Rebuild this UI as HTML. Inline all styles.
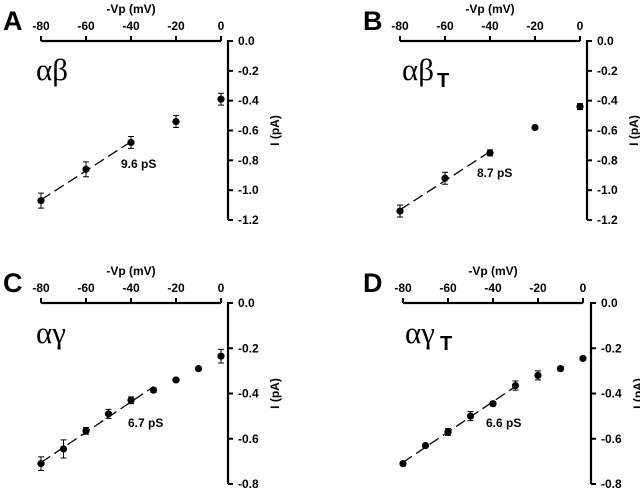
<!DOCTYPE html>
<html><head><meta charset="utf-8"><style>
html,body{margin:0;padding:0;background:#fff;}
svg{display:block;font-family:"Liberation Sans",Arial,sans-serif;}
.t{font-size:12px;font-weight:bold;}
</style></head><body>
<svg id="fig" width="640" height="492"></svg>
<script>
const voltsAB = [-80,-60,-40,-20,0];
const currA = [-1.07,-0.86,-0.68,-0.54,-0.39];
const errA = [0.05,0.05,0.04,0.04,0.04];
const currB = [-1.14,-0.92,-0.75,-0.58,-0.44];
const errB = [0.04,0.04,0.02,0.0,0.02];
const voltsCD = [-80,-70,-60,-50,-40,-30,-20,-10,0];
const currC = [-0.71,-0.645,-0.565,-0.49,-0.43,-0.385,-0.34,-0.29,-0.235];
const errC = [0.03,0.04,0.015,0.02,0.015,0.01,0,0,0.03];
const currD = [-0.71,-0.63,-0.57,-0.50,-0.445,-0.365,-0.32,-0.29,-0.245];
const errD = [0.01,0,0.015,0.02,0.01,0.02,0.02,0.01,0];
const xTicks = [-80,-60,-40,-20,0];
const yTicksAB = [0,-0.2,-0.4,-0.6,-0.8,-1.0,-1.2];
const yTicksCD = [0,-0.2,-0.4,-0.6,-0.8];
const labels = ["9.6 pS","8.7 pS","6.7 pS","6.6 pS"];
const letters = ["A","B","C","D"];

const NS="http://www.w3.org/2000/svg";
const svg=document.getElementById('fig');
function mk(tag,attrs,parent){const e=document.createElementNS(NS,tag);for(const k in attrs)e.setAttribute(k,attrs[k]);(parent||svg).appendChild(e);return e;}

const panels=[
 {x0:41,x1:221,ax:228,yTop:41,yBot:220,ymin:-1.2,v:voltsAB,c:currA,e:errA,yt:yTicksAB,fitN:3,greek:"αβ",sub:"",lbl:[121,168],lx:3,ly:30,gx:36,gy:80},
 {x0:400,x1:580,ax:587,yTop:41,yBot:220,ymin:-1.2,v:voltsAB,c:currB,e:errB,yt:yTicksAB,fitN:3,greek:"αβ",sub:"T",lbl:[477,177],lx:363,ly:30,gx:402,gy:80},
 {x0:41,x1:221,ax:228,yTop:303,yBot:484,ymin:-0.8,v:voltsCD,c:currC,e:errC,yt:yTicksCD,fitN:6,greek:"αγ",sub:"",lbl:[128,427],lx:3,ly:292,gx:36,gy:343},
 {x0:403,x1:583,ax:591,yTop:303,yBot:484,ymin:-0.8,v:voltsCD,c:currD,e:errD,yt:yTicksCD,fitN:6,greek:"αγ",sub:"T",lbl:[486,427],lx:363,ly:292,gx:405,gy:343}
];

panels.forEach((p,i)=>{
  const g=mk('g',{});
  
  
  const X=v=>p.x0+(v+80)/80*(p.x1-p.x0);
  const Y=c=>p.yTop+(c/p.ymin)*(p.yBot-p.yTop);
  const xa=mk('line',{x1:p.x0,y1:p.yTop,x2:p.x1,y2:p.yTop,stroke:'#000','stroke-width':2.2},g);
  
  xTicks.forEach(t=>{
    mk('line',{x1:X(t),y1:p.yTop,x2:X(t),y2:p.yTop-5,stroke:'#000','stroke-width':2},g);
    const tx=mk('text',{x:X(t),y:p.yTop-11,'text-anchor':'middle',class:'t'},g);tx.textContent=t;
    
  });
  const xt=mk('text',{x:(p.x0+p.x1)/2,y:p.yTop-28,'text-anchor':'middle',class:'t'},g);xt.textContent='-Vp (mV)';
  
  const ya=mk('line',{x1:p.ax,y1:p.yTop-1,x2:p.ax,y2:p.yBot,stroke:'#000','stroke-width':2.2},g);
  
  p.yt.forEach(t=>{
    mk('line',{x1:p.ax,y1:Y(t),x2:p.ax+5,y2:Y(t),stroke:'#000','stroke-width':2},g);
    const tx=mk('text',{x:p.ax+10,y:Y(t)+4,class:'t'},g);tx.textContent=t.toFixed(1);
    
  });
  const yc=(p.yTop+p.yBot)/2;
  const yx=p.ax+51;
  const yt=mk('text',{x:yx,y:yc,'text-anchor':'middle',class:'t',transform:`rotate(-90 ${yx} ${yc})`},g);yt.textContent='I (pA)';
  
  const n=p.fitN;let sx=0,sy=0,sxx=0,sxy=0;
  for(let k=0;k<n;k++){sx+=p.v[k];sy+=p.c[k];sxx+=p.v[k]*p.v[k];sxy+=p.v[k]*p.c[k];}
  const m=(n*sxy-sx*sy)/(n*sxx-sx*sx),b=(sy-m*sx)/n;
  const va=p.v[0],vb=p.v[n-1];
  const fl=mk('line',{x1:X(va),y1:Y(m*va+b),x2:X(vb),y2:Y(m*vb+b),stroke:'#000','stroke-width':1.3,'stroke-dasharray':'11,5'},g);
  
  p.v.forEach((v,k)=>{
    const cx=X(v),cy=Y(p.c[k]),e=p.e[k];
    if(e>0){
      const y1=Y(p.c[k]+e),y2=Y(p.c[k]-e);
      mk('path',{d:`M${cx},${y1}V${y2}M${cx-3},${y1}H${cx+3}M${cx-3},${y2}H${cx+3}`,stroke:'#000','stroke-width':1,fill:'none'},g);
    }
    const c=mk('circle',{cx:cx,cy:cy,r:3.6,fill:'#000'},g);
    
  });
  const lb=mk('text',{x:p.lbl[0],y:p.lbl[1],class:'t'},g);lb.textContent=labels[i];
  
  const L=mk('text',{x:p.lx,y:p.ly,'font-size':27,'font-weight':'bold'},g);L.textContent=letters[i];
  
  const G=mk('text',{x:p.gx,y:p.gy,'font-size':31,'font-family':'"Liberation Serif",serif'},g);G.textContent=p.greek;
  
  if(p.sub){const s=mk('text',{x:p.gx+35,y:p.gy+7,'font-size':20,'font-weight':'bold'},g);s.textContent=p.sub;
    }
});
</script>
</body></html>
